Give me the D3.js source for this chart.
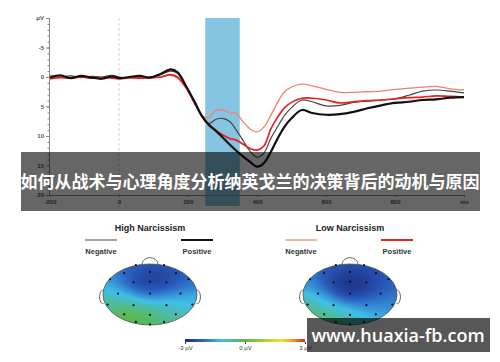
<!DOCTYPE html>
<html lang="zh">
<head>
<meta charset="utf-8">
<title>ERP Narcissism</title>
<style>
    body { margin: 0; background: #fff; }
    svg { display: block; font-family: "Liberation Sans", Arial, sans-serif; }
</style>
<script src="https://cdn.jsdelivr.net/npm/d3@7"></script>
</head>
<body>
<script>
    // waveform data (ms, uV)
    let times = [-200,-170,-140,-110,-80,-50,-20,0,30,60,90,120,150,170,195,220,240,260,280,300,320,340,360,380,400,420,440,460,480,500,530,560,600,640,680,720,760,800,840,880,920,960,1000]
    let highPositive = [0.1,-0.3,0.2,-0.2,0.1,0.3,-0.1,0.2,0.0,-0.2,0.1,-0.5,-1.3,-0.8,1.6,4.3,6.6,8.1,9.1,10.2,11.4,12.5,13.5,14.4,15.2,14.6,12.7,10.4,8.4,7.0,5.6,6.1,6.4,6.3,5.9,5.3,4.8,4.4,4.2,3.9,3.8,3.5,3.4]
    let highNegative = [0.2,0.0,-0.2,0.1,-0.1,0.0,-0.3,0.0,0.1,-0.1,0.0,-0.4,-1.0,-0.6,1.8,4.3,6.6,7.9,7.2,7.0,7.5,9.0,10.8,12.6,13.6,12.9,10.4,8.4,6.5,5.2,3.9,4.2,4.9,4.8,4.3,4.1,3.9,3.7,3.1,2.4,2.2,2.4,2.7]
    let lowPositive = [0.3,0.1,0.2,0.0,0.2,0.1,0.2,0.3,0.1,0.2,0.1,0.0,-0.4,0.0,1.8,4.5,6.6,8.0,9.0,9.8,10.4,10.7,11.4,12.1,12.4,11.7,8.8,6.8,5.2,4.3,3.6,3.6,3.9,4.4,4.2,4.0,3.9,3.7,3.5,3.4,3.2,3.3,3.4]
    let lowNegative = [-0.3,0.0,0.1,-0.1,0.1,0.2,0.0,0.3,0.2,0.1,0.2,0.0,-0.3,0.2,2.0,4.6,6.5,6.9,5.6,5.6,6.0,6.2,7.6,8.8,9.3,8.5,6.5,4.3,2.5,1.7,1.2,1.5,2.1,2.6,2.6,2.5,2.4,2.1,1.9,1.7,1.6,2.0,2.2]
    let yTicks = [-10,-5,0,5,10,15,20]
    let xTicks = [-200,0,200,400,600,800,1000]
    let windowMs = [250,350]

    // topography: electrode positions (head units) and mean amplitude (uV)
    let electrodeX = [-0.3,0.3,-0.55,0,0.55,-0.85,0.82,-0.35,0,0.35,-0.68,0,0.65,-0.9,-0.35,0.35,0.9,-0.55,0,0.55,-0.3,0,0.3]
    let electrodeY = [-0.96,-0.96,-0.7,-0.74,-0.7,-0.5,-0.5,-0.4,-0.42,-0.4,-0.03,-0.03,-0.03,0.33,0.35,0.35,0.33,0.65,0.67,0.65,0.9,0.98,0.9]
    let highMap = [-2.0,-2.2,-2.2,-2.8,-2.5,-1.3,-1.9,-2.5,-2.8,-2.6,-1.1,-1.9,-1.6,-0.5,-0.8,-1.1,-1.2,0.1,-0.3,-0.7,0.3,-0.2,-0.5]
    let lowMap = [-2.2,-2.3,-2.3,-2.7,-2.5,-1.5,-2.0,-2.8,-3.0,-2.9,-1.5,-2.7,-2.2,-0.4,-1.6,-2.0,-1.7,-0.2,-1.1,-1.4,-0.2,-0.7,-1.0]
    let colorValues = [-3,-2.2,-1.2,0,1,1.8,2.4,3]
    let colorHex = ["#1b2a80","#2a5fc0","#3fbfe8","#5cb84c","#a8d03a","#f2e22c","#f39a2a","#e0201e"]
    let barTicks = [-3,0,3]

    let title = "如何从战术与心理角度分析纳英戈兰的决策背后的动机与原因"
    let watermark = "www.huaxia-fb.com"

    let width = 500
    let height = 362
    let svg = d3.select("body").append("svg")
                .attr("width", width)
                .attr("height", height)

    let x = d3.scaleLinear().domain([-200,1000]).range([50,464])
    let y = d3.scaleLinear().domain([-10,20]).range([18,195])

    // analysis window
    svg.append("rect")
        .attr("x", x(windowMs[0]))
        .attr("y", y(-10))
        .attr("width", x(windowMs[1]) - x(windowMs[0]))
        .attr("height", 188)
        .attr("fill", "#86c5e1")

    // stimulus onset
    svg.append("line")
        .attr("x1", x(0)).attr("x2", x(0))
        .attr("y1", y(-10)).attr("y2", y(20))
        .attr("stroke", "#d0d0d0")
        .attr("stroke-dasharray", "3,2")

    let styleAxis = (g) => {
        g.select(".domain").attr("stroke", "#888")
        g.selectAll(".tick line").attr("stroke", "#888")
        g.selectAll(".tick text")
            .attr("font-size", "6px")
            .attr("font-weight", "bold")
            .attr("fill", "#555")
    }

    svg.append("g")
        .attr("transform", "translate(49,0)")
        .call(d3.axisLeft(y).tickValues(d3.range(-10, 21, 1)).tickSize(1.5).tickFormat(""))
        .call(styleAxis)
    svg.append("g")
        .attr("transform", "translate(49,0)")
        .call(d3.axisLeft(y).tickValues(yTicks).tickSize(3).tickPadding(2)
                .tickFormat((d) => d === -10 ? "μV" : d))
        .call(styleAxis)
        .call((g) => g.selectAll(".tick text").filter((d) => d === 20).attr("dy", "0.2em"))

    svg.append("g")
        .attr("transform", `translate(0,${y(20)})`)
        .call(d3.axisBottom(x).tickValues(xTicks).tickSize(2).tickPadding(3)
                .tickFormat((d) => d === 1000 ? "ms" : d))
        .call(styleAxis)

    let line = d3.line()
                .x((d, i) => x(times[i]))
                .y((d) => y(d))
                .curve(d3.curveCatmullRom)

    let series = [
        {values: lowNegative, color: "#f2806e", w: 1.3},
        {values: highNegative, color: "#444", w: 1.2},
        {values: lowPositive, color: "#e8221c", w: 1.7},
        {values: highPositive, color: "#111", w: 2.2}
    ]
    svg.selectAll(".wave")
        .data(series)
        .enter()
        .append("path")
        .attr("class", "wave")
        .attr("d", (s) => line(s.values))
        .attr("fill", "none")
        .attr("stroke", (s) => s.color)
        .attr("stroke-width", (s) => s.w)

    // title band
    svg.append("rect")
        .attr("x", 21).attr("y", 152)
        .attr("width", 459).attr("height", 59)
        .attr("fill", "rgba(0,0,0,0.6)")
    svg.append("text")
        .attr("x", 250).attr("y", 188)
        .attr("text-anchor", "middle")
        .attr("font-family", "'Noto Sans CJK SC', sans-serif")
        .attr("font-weight", "bold")
        .attr("font-size", "17px")
        .attr("fill", "#fff")
        .text(title)

    // topographic maps
    let color = d3.scaleLinear().domain(colorValues).range(colorHex).clamp(true)

    let field = (u, v, values) => {
        let num = 0, den = 0
        for (let i = 0; i < values.length; i++) {
            let dx = u - electrodeX[i], dy = v - electrodeY[i]
            let w = Math.exp(-(dx*dx + dy*dy) / (2 * 0.27 * 0.27))
            num += w * values[i]
            den += w
        }
        return num / den
    }

    let drawHead = (cx, cy, values, label, negColor, posColor, negWidth, posWidth) => {
        let hx = d3.scaleLinear().domain([-1,1]).range([cx-47, cx+47])
        let hy = d3.scaleLinear().domain([-1,1]).range([cy-30.5, cy+30.5])
        let g = svg.append("g")

        g.append("text")
            .attr("x", cx).attr("y", 231)
            .attr("text-anchor", "middle")
            .attr("font-size", "9px")
            .attr("font-weight", "bold")
            .attr("fill", "#222")
            .text(label)

        let legend = [
            {name: "Negative", color: negColor, w: negWidth, x0: -65, x1: -33},
            {name: "Positive", color: posColor, w: posWidth, x0: 31, x1: 63}
        ]
        legend.forEach((l) => {
            g.append("line")
                .attr("x1", cx + l.x0).attr("x2", cx + l.x1)
                .attr("y1", 240).attr("y2", 240)
                .attr("stroke", l.color)
                .attr("stroke-width", l.w)
            g.append("text")
                .attr("x", cx + (l.x0 + l.x1) / 2).attr("y", 254)
                .attr("text-anchor", "middle")
                .attr("font-size", "7.5px")
                .attr("font-weight", "bold")
                .attr("fill", "#333")
                .text(l.name)
        })

        let cells = []
        for (let px = Math.floor(hx(-1)); px < hx(1); px++) {
            for (let py = Math.floor(hy(-1)); py < hy(1); py++) {
                let u = hx.invert(px + 0.5), v = hy.invert(py + 0.5)
                if (u*u + v*v <= 1.05) cells.push({px, py, val: field(u, v, values)})
            }
        }
        let clipId = "clip" + cx
        svg.append("clipPath").attr("id", clipId)
            .append("ellipse")
            .attr("cx", cx).attr("cy", cy).attr("rx", 47).attr("ry", 30.5)

        let map = g.append("g").attr("clip-path", `url(#${clipId})`)
        map.selectAll("rect")
            .data(cells)
            .enter()
            .append("rect")
            .attr("x", (d) => d.px)
            .attr("y", (d) => d.py)
            .attr("width", 1.1)
            .attr("height", 1.1)
            .attr("fill", (d) => color(d.val))

        g.append("ellipse")
            .attr("cx", cx).attr("cy", cy).attr("rx", 47).attr("ry", 30.5)
            .attr("fill", "none")
            .attr("stroke", "#555")
            .attr("stroke-width", 0.8)

        let nose = d3.path()
        nose.moveTo(hx(-0.17), hy(-0.99))
        nose.bezierCurveTo(hx(-0.15), hy(-1.28), hx(0.15), hy(-1.28), hx(0.17), hy(-0.99))
        let earL = d3.path()
        earL.moveTo(hx(-0.99), hy(-0.14))
        earL.bezierCurveTo(hx(-1.1), hy(-0.16), hx(-1.1), hy(0.32), hx(-0.99), hy(0.3))
        let earR = d3.path()
        earR.moveTo(hx(0.99), hy(-0.14))
        earR.bezierCurveTo(hx(1.1), hy(-0.16), hx(1.1), hy(0.32), hx(0.99), hy(0.3))
        g.selectAll(".part")
            .data([nose, earL, earR])
            .enter()
            .append("path")
            .attr("d", (p) => p.toString())
            .attr("fill", "none")
            .attr("stroke", "#555")
            .attr("stroke-width", 0.9)

        g.selectAll(".electrode")
            .data(electrodeX)
            .enter()
            .append("circle")
            .attr("cx", (d) => hx(d))
            .attr("cy", (d, i) => hy(electrodeY[i]))
            .attr("r", 1.1)
            .attr("fill", "#111")
    }

    drawHead(150, 294.5, highMap, "High Narcissism", "#777", "#111", 1.4, 2)
    drawHead(350, 294.5, lowMap, "Low Narcissism", "#f4907c", "#e8251f", 1.4, 2)

    // colour bar
    let bx = d3.scaleLinear().domain([-3,3]).range([185,305])
    let grad = svg.append("defs").append("linearGradient").attr("id", "bar")
    grad.selectAll("stop")
        .data(colorValues)
        .enter()
        .append("stop")
        .attr("offset", (d) => ((d + 3) / 6 * 100) + "%")
        .attr("stop-color", (d, i) => colorHex[i])
    svg.append("rect")
        .attr("x", bx(-3)).attr("y", 339)
        .attr("width", bx(3) - bx(-3)).attr("height", 3)
        .attr("fill", "url(#bar)")
    svg.append("g")
        .attr("transform", "translate(0,342)")
        .call(d3.axisBottom(bx).tickValues(barTicks).tickSize(2).tickPadding(1.5)
                .tickFormat((d) => d + " μV"))
        .call((g) => {
            g.select(".domain").remove()
            g.selectAll(".tick line").attr("stroke", "#333")
            g.selectAll(".tick text").attr("font-size", "6px").attr("fill", "#333")
        })

    // watermark
    svg.append("rect")
        .attr("x", 307).attr("y", 318)
        .attr("width", 183).attr("height", 34)
        .attr("fill", "rgba(0,0,0,0.66)")
    svg.append("text")
        .attr("x", 398).attr("y", 342)
        .attr("text-anchor", "middle")
        .attr("font-family", "'Open Sans', 'Noto Sans', sans-serif")
        .attr("font-weight", 600)
        .attr("font-size", "18px")
        .attr("fill", "#fff")
        .text(watermark)
</script>
</body>
</html>
